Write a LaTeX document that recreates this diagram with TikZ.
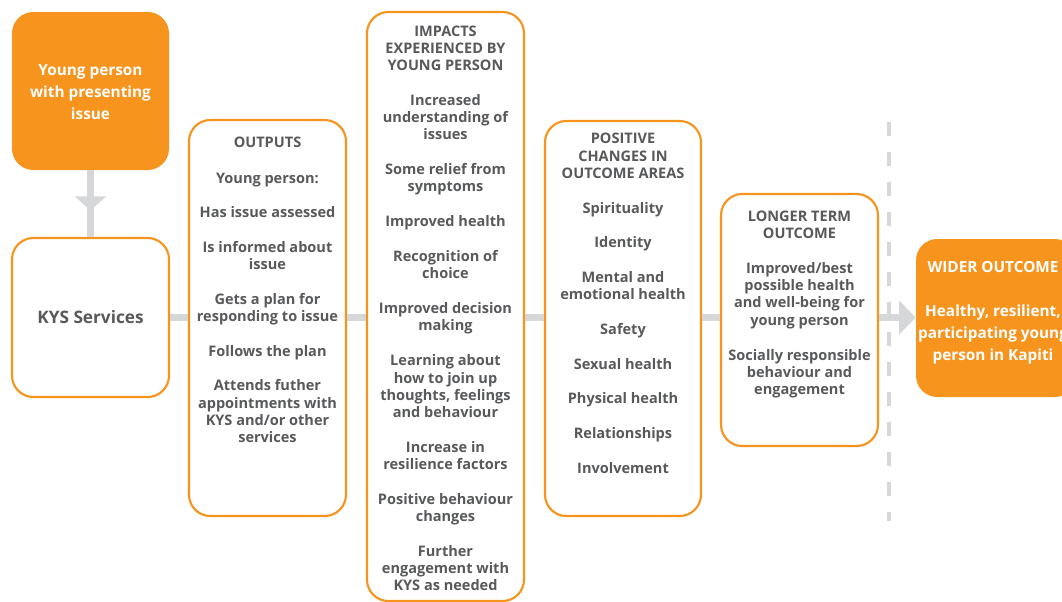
\documentclass[tikz,border=0pt]{standalone}
\usepackage{fontspec}
\setmainfont{Open Sans}
\usetikzlibrary{arrows.meta,decorations.markings}
\definecolor{kysorange}{HTML}{F7941D}
\definecolor{kystext}{HTML}{58595B}
\definecolor{kysline}{HTML}{D6D7D9}
\tikzset{
  box/.style={draw=kysorange, line width=1.6pt, rounded corners=16pt, fill=white, inner sep=0pt},
  fbox/.style={fill=kysorange, rounded corners=16pt, inner sep=0pt},
  ln/.style={anchor=base, inner sep=0pt, text=kystext, font=\bfseries\fontsize{10.9pt}{13pt}\selectfont},
  wln/.style={anchor=base, inner sep=0pt, text=white, font=\bfseries\fontsize{11.5pt}{14pt}\selectfont},
  conn/.style={draw=kysline, line width=5.25pt},
}
\begin{document}
\begin{tikzpicture}[x=0.75pt,y=-0.75pt]
\useasboundingbox (0,0) rectangle (1062,601);
\clip (0,0) rectangle (1062,601);
% boxes
\node[fbox, minimum width=157*0.75pt, minimum height=158*0.75pt] (yp) at (90.5,91) {};
\node[box, minimum width=157*0.75pt, minimum height=159*0.75pt] (kys) at (90.5,317.5) {};
\node[box, minimum width=157*0.75pt, minimum height=396*0.75pt] (out) at (267.5,318) {};
\node[box, minimum width=157*0.75pt, minimum height=589*0.75pt] (imp) at (445.5,306.5) {};
\node[box, minimum width=156*0.75pt, minimum height=395*0.75pt] (pos) at (623,318.5) {};
\node[box, minimum width=157*0.75pt, minimum height=252*0.75pt] (lt) at (799.5,320) {};
\node[fbox, minimum width=160*0.75pt, minimum height=158*0.75pt] (wo) at (996,318) {};
% dashed divider
\coordinate (dtop) at (889,122);
\coordinate (dbot) at (889,521);
\draw[kysline, line width=2.6pt, dash pattern=on 10.5pt off 12pt] (dtop) -- (dbot);
% connectors
\draw[conn, postaction={decorate}, decoration={markings, mark=at position 0.6 with {\arrow[kysline]{Triangle[width=23.5pt,length=10.5pt]}}}] (yp.south) -- (kys.north);
\draw[conn] (kys.east) -- (kys.east -| out.west);
\draw[conn] (kys.east -| out.east) -- (kys.east -| imp.west);
\draw[conn] (kys.east -| imp.east) -- (kys.east -| pos.west);
\draw[conn] (kys.east -| pos.east) -- (kys.east -| lt.west);
\draw[conn, -{Triangle[width=25pt,length=12.5pt]}] (kys.east -| lt.east) -- (kys.east -| wo.west);
% texts
\foreach \y/\t [count=\i] in {70/{Young person}, 92/{with presenting}, 114/{issue}}
  \node[wln, name=ypt\i] at (90.5,\y+5) {\t};
\node[anchor=base, inner sep=0pt, text=kystext, font=\bfseries\fontsize{12.9pt}{15pt}\selectfont] (kyst) at (90.5,323) {KYS Services};
\foreach \y/\t [count=\i] in {142/{OUTPUTS}, 178/{Young person:}, 212/{Has issue assessed}, 247/{Is informed about}, 264/{issue}, 299/{Gets a plan for}, 316/{responding to issue}, 351/{Follows the plan}, 385/{Attends futher}, 403/{appointments with}, 420/{KYS and/or other}, 437/{services}}
  \node[ln, name=outt\i] at (267.5,\y+5) {\t};
\foreach \y/\t [count=\i] in {31/{IMPACTS}, 48/{EXPERIENCED BY}, 65/{YOUNG PERSON}, 100/{Increased}, 117/{understanding of}, 134/{issues}, 169/{Some relief from}, 186/{symptoms}, 221/{Improved health}, 256/{Recognition of}, 273/{choice}, 308/{Improved decision}, 325/{making}, 360/{Learning about}, 378/{how to join up}, 395/{thoughts, feelings}, 412/{and behaviour}, 447/{Increase in}, 464/{resilience factors}, 499/{Positive behaviour}, 516/{changes}, 551/{Further}, 568/{engagement with}, 585/{KYS as needed}}
  \node[ln, name=impt\i] at (445.5,\y+5) {\t};
\foreach \y/\t [count=\i] in {138/{POSITIVE}, 156/{CHANGES IN}, 173/{OUTCOME AREAS}, 208/{Spirituality}, 242/{Identity}, 277/{Mental and}, 294/{emotional health}, 329/{Safety}, 364/{Sexual health}, 398/{Physical health}, 433/{Relationships}, 468/{Involvement}}
  \node[ln, name=post\i] at (623,\y+5) {\t};
\foreach \y/\t [count=\i] in {216/{LONGER TERM}, 233/{OUTCOME}, 268/{Improved/best}, 285/{possible health}, 302/{and well-being for}, 320/{young person}, 355/{Socially responsible}, 372/{behaviour and}, 389/{engagement}}
  \node[ln, name=ltt\i] at (799.5,\y+5) {\t};
\foreach \y/\t [count=\i] in {267/{WIDER OUTCOME}, 311/{Healthy, resilient,}, 333/{participating young}, 355/{person in Kapiti}}
  \node[wln, name=wot\i] at (993,\y+5) {\t};
\end{tikzpicture}
\end{document}
